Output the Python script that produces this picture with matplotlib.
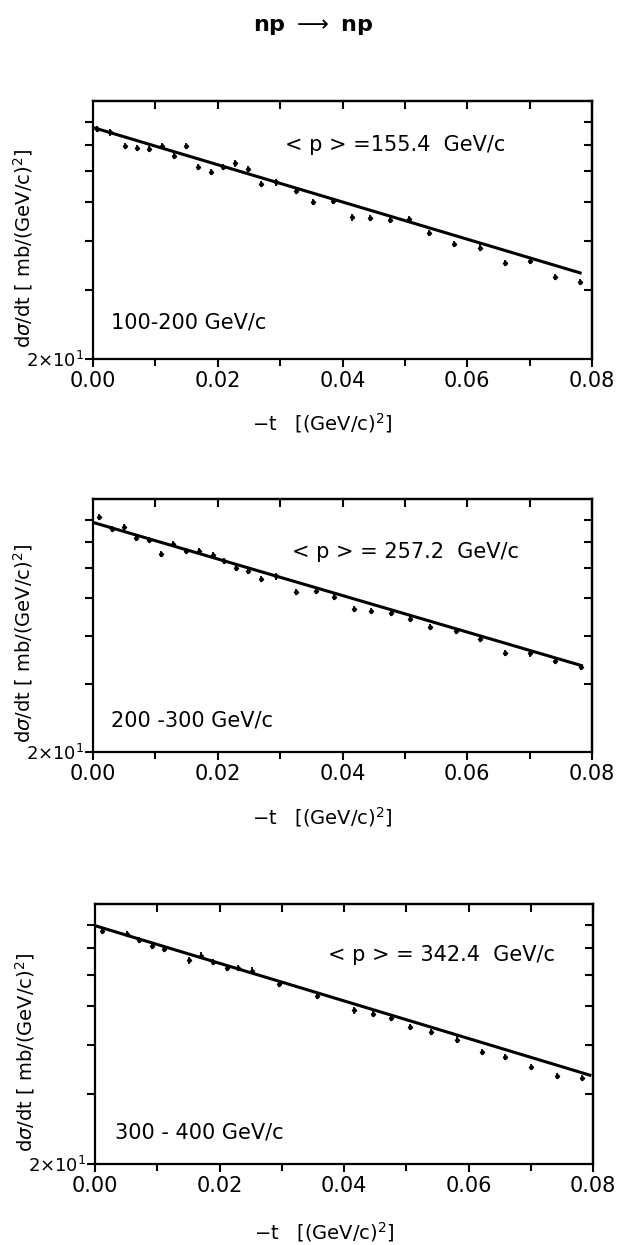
import matplotlib
matplotlib.use("Agg")
import matplotlib.pyplot as plt
import numpy as np

# -t values [(GeV/c)^2] and dsigma/dt [mb/(GeV/c)^2]
t_100_200 = [0.0006, 0.0027, 0.0051, 0.0071, 0.0090, 0.0110, 0.0130, 0.0149, 0.0169,
             0.0189, 0.0209, 0.0228, 0.0249, 0.0269, 0.0294, 0.0325, 0.0353, 0.0385,
             0.0415, 0.0444, 0.0476, 0.0507, 0.0539, 0.0579, 0.0620, 0.0660, 0.0700,
             0.0741, 0.0781]
y_100_200 = [76.8, 75.3, 69.6, 68.9, 68.3, 69.6, 65.7, 69.6, 61.6,
             59.6, 61.6, 62.8, 60.8, 55.7, 56.2, 53.6, 50.2, 50.5,
             45.8, 45.6, 45.2, 45.4, 41.8, 39.3, 38.4, 35.1, 35.5,
             32.3, 31.4]

t_200_300 = [0.0010, 0.0030, 0.0049, 0.0069, 0.0089, 0.0109, 0.0129, 0.0149, 0.0170,
             0.0192, 0.0210, 0.0230, 0.0249, 0.0269, 0.0293, 0.0325, 0.0357, 0.0386,
             0.0418, 0.0446, 0.0477, 0.0508, 0.0540, 0.0582, 0.0620, 0.0660, 0.0700,
             0.0741, 0.0782]
y_200_300 = [81.4, 75.7, 76.4, 71.7, 70.9, 65.2, 69.2, 66.5, 66.5,
             64.9, 62.6, 60.0, 58.8, 56.2, 57.0, 51.9, 52.4, 50.4,
             47.0, 46.5, 45.8, 44.3, 42.1, 41.1, 39.3, 36.1, 36.0,
             34.5, 33.2]

t_300_400 = [0.0011, 0.0051, 0.0071, 0.0091, 0.0111, 0.0151, 0.0171, 0.0190, 0.0212,
             0.0230, 0.0252, 0.0296, 0.0357, 0.0416, 0.0446, 0.0476, 0.0506, 0.0540,
             0.0581, 0.0621, 0.0659, 0.0701, 0.0742, 0.0782]
y_300_400 = [77.5, 76.0, 73.4, 71.1, 69.7, 65.2, 67.1, 64.5, 62.5,
             62.5, 61.5, 57.0, 53.2, 48.8, 47.9, 46.8, 44.3, 43.0,
             41.2, 38.3, 37.2, 35.1, 33.3, 32.9]

# exponential fits, drawn as straight lines between the end points on the log axis
fit_t = [[0.0, 0.0781], [0.0, 0.0783], [0.0, 0.0795]]
fit_y = [[77.5, 33.1], [78.7, 33.5], [79.8, 33.5]]

mean_p = ["< p > =155.4  GeV/c", "< p > = 257.2  GeV/c", "< p > = 342.4  GeV/c"]
ranges = ["100-200 GeV/c", "200 -300 GeV/c", "300 - 400 GeV/c"]
rel_err = 0.018

panels = [(t_100_200, y_100_200), (t_200_300, y_200_300), (t_300_400, y_300_400)]

W, H = 626, 1245
# axes boxes in pixels: left, top, right, bottom
boxes = [(93, 101, 592, 359), (93, 499, 592, 752), (95, 904, 593, 1164)]
mp_pos = [(0.385, 0.83), (0.398, 0.792), (0.468, 0.805)]
rg_pos = [(0.037, 0.14), (0.037, 0.126), (0.04, 0.12)]
xlab_y = [-0.25, -0.258, -0.262]

fig = plt.figure(figsize=(W / 100, H / 100), dpi=100, facecolor="white")
fig.text(0.5, 1 - 27 / H, r"np $\longrightarrow$ np", ha="center", va="center",
         fontsize=16, fontweight="bold")

for i, (t, y) in enumerate(panels):
    l, tp, r, b = boxes[i]
    ax = fig.add_axes([l / W, 1 - b / H, (r - l) / W, (b - tp) / H])
    t = np.array(t)
    y = np.array(y)
    ax.errorbar(t, y, yerr=y * rel_err, fmt="D", ms=2.2, color="black",
                elinewidth=1.3, capsize=0)
    ax.plot(fit_t[i], fit_y[i], color="black", lw=2.2)

    ax.set_yscale("log")
    ax.set_xlim(0, 0.08)
    ax.set_ylim(20, 90.5)
    ax.set_yticks([20, 30, 40, 50, 60, 70, 80])
    ax.set_yticklabels([r"$2{\times}10^1$", "", "", "", "", "", ""], fontsize=13)
    ax.yaxis.set_minor_locator(matplotlib.ticker.NullLocator())
    ax.set_xticks([0.0, 0.02, 0.04, 0.06, 0.08])
    ax.set_xticklabels(["0.00", "0.02", "0.04", "0.06", "0.08"], fontsize=15)
    ax.set_xticks(np.arange(0.01, 0.08, 0.02), minor=True)
    ax.tick_params(axis="both", direction="out", width=1.5, length=6, pad=3,
                   top=False, right=False)
    ax.tick_params(axis="x", which="minor", direction="out", width=1.5, length=5)
    ax.tick_params(axis="y", pad=0)
    for s in ax.spines.values():
        s.set_linewidth(1.6)

    sx = ax.secondary_xaxis("top")
    sx.set_xticks(np.arange(0.01, 0.08, 0.01))
    sx.set_xticklabels([])
    sx.tick_params(direction="in", width=1.5, length=6)
    sx.spines["top"].set_linewidth(1.6)

    sy = ax.secondary_yaxis("right")
    sy.set_yticks([30, 40, 50, 60, 70, 80])
    sy.set_yticklabels([])
    sy.yaxis.set_minor_locator(matplotlib.ticker.NullLocator())
    sy.tick_params(direction="in", width=1.5, length=6)
    sy.spines["right"].set_linewidth(1.6)

    ax.text(*mp_pos[i], mean_p[i], transform=ax.transAxes, fontsize=15, va="center")
    ax.text(*rg_pos[i], ranges[i], transform=ax.transAxes, fontsize=15, va="center")

    ax.set_xlabel(r"$-$t   [(GeV/c)$^2$]", fontsize=14, va="center")
    ax.xaxis.set_label_coords(0.46, xlab_y[i])
    ax.set_ylabel(r"d$\sigma$/dt [ mb/(GeV/c)$^2$]", fontsize=14, va="center")
    ax.yaxis.set_label_coords(-0.14, 0.43)

fig.savefig("out.png", dpi=100, facecolor="white")
